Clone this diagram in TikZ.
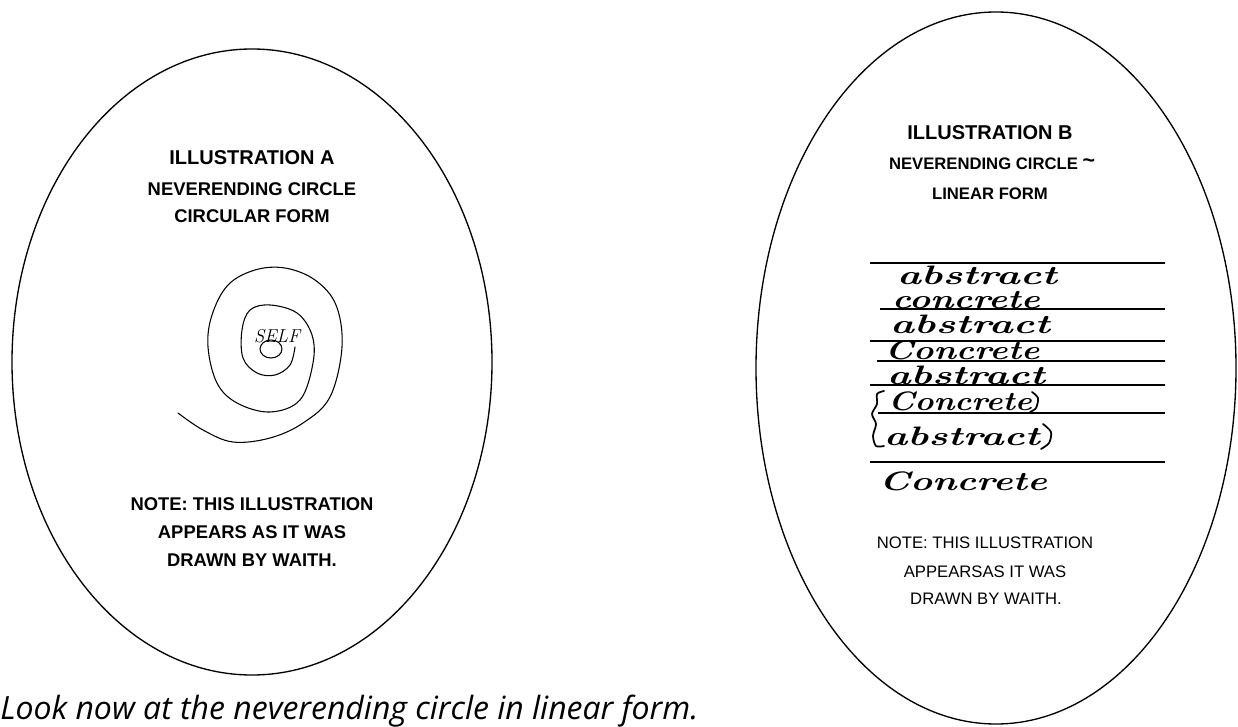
\documentclass[tikz,border=0pt]{standalone}
\usepackage{fontspec}
\usetikzlibrary{shapes.geometric}
\newfontfamily\arialfont{Liberation Sans}
\newfontfamily\capfont{Open Sans}
\newcommand{\hw}[2]{\scalebox{#1}[1]{\fontsize{20}{22}\selectfont\bfseries\itshape #2}}
\begin{document}
\begin{tikzpicture}[x=0.75pt,y=-0.75pt,
  oval/.style={draw, ellipse, line width=1pt, inner sep=0pt},
  titlebox/.style={font=\arialfont\bfseries\fontsize{15}{18}\selectfont, inner sep=0pt},
  subbold/.style={font=\arialfont\bfseries\fontsize{13.8}{16}\selectfont, inner sep=0pt},
  subboldB/.style={font=\arialfont\bfseries\fontsize{12.5}{15}\selectfont, inner sep=0pt},
  noteB/.style={font=\arialfont\fontsize{12.5}{15}\selectfont, inner sep=0pt},
  hand/.style={inner sep=0pt},
  hline/.style={line width=1.1pt},
  pen/.style={line width=0.8pt, line cap=round, line join=round}]
\useasboundingbox (0,0) rectangle (1238,727);
% ellipses
\node[oval, minimum width=360pt, minimum height=469.5pt] (ovalA) at (252,362) {};
\node[oval, minimum width=360pt, minimum height=534pt] (ovalB) at (996,368) {};
% illustration A texts
\node[titlebox] (titA) at (252,158) {ILLUSTRATION A};
\node[subbold] (subA1) at (252,189) {NEVERENDING CIRCLE};
\node[subbold] (subA2) at (252,216) {CIRCULAR FORM};
\node[subbold] (noteA1) at (252,504) {NOTE: THIS ILLUSTRATION};
\node[subbold] (noteA2) at (252,532) {APPEARS AS IT WAS};
\node[subbold] (noteA3) at (252,560) {DRAWN BY WAITH.};
% spiral
\draw[pen] plot[smooth, tension=0.6] coordinates {
 (178,413) (203,430) (233,442) (270,438) (303,423) (330,397) (342,347)
 (336,305) (315,280) (285,268) (255,270) (228,285) (212,315) (208,347)
 (217,383) (237,403) (270,412) (300,400) (313,363) (312,335) (297,313)
 (270,305) (250,310) (242,330) (243,358) (257,373) (275,375) (290,365) (295,347)};
\node[hand, font=\fontsize{14}{15}\selectfont\itshape] (self) at (277,336) {SELF};
\draw[pen] (271,349) ellipse [x radius=11, y radius=9];
% illustration B texts
\node[titlebox] (titB) at (990,133) {ILLUSTRATION B};
\node[subboldB] (subB1) at (992,164) {NEVERENDING CIRCLE \raisebox{2pt}{\fontsize{16}{16}\selectfont\~{}}};
\node[subboldB] (subB2) at (990,194) {LINEAR FORM};
\node[noteB] (noteB1) at (985,543) {NOTE: THIS ILLUSTRATION};
\node[noteB] (noteB2) at (985,572) {APPEARSAS IT WAS};
\node[noteB] (noteB3) at (986,599) {DRAWN BY WAITH.};
% handwritten list
\draw[hline] (870,263) -- (1165,263);
\draw[hline] (880,309) -- (1165,309);
\draw[hline] (870,341) -- (1165,341);
\draw[hline] (877,361) -- (1165,361);
\draw[hline] (870,385) -- (1165,385);
\draw[hline] (878,413) -- (1165,413);
\draw[hline] (870,462) -- (1165,462);
\node[hand] (w1) at (977,275) {\hw{1.52}{abstract}};
\node[hand] (w2) at (966,300) {\hw{1.34}{concrete}};
\node[hand] (w3) at (970,324) {\hw{1.52}{abstract}};
\node[hand] (w4) at (962,350) {\hw{1.29}{Concrete}};
\node[hand] (w5) at (966,375) {\hw{1.5}{abstract}};
\node[hand] (w6) at (960,401) {\hw{1.2}{Concrete}};
\node[hand] (w7) at (962,436) {\hw{1.48}{abstract}};
\node[hand] (w8) at (963,481) {\hw{1.4}{Concrete}};
% braces
\draw[pen, line width=1.3pt] plot[smooth] coordinates {(884,391) (877,394) (877,404) (872,414) (876,424) (873,436) (876,446) (884,446)};
\draw[pen, line width=1.3pt] plot[smooth] coordinates {(1032,392) (1038,398) (1036,408) (1030,412)};
\draw[pen, line width=1.3pt] plot[smooth] coordinates {(1043,424) (1051,432) (1049,443) (1041,449)};
% caption
\node[inner sep=0pt, anchor=west, font=\capfont\itshape\fontsize{24}{27}\selectfont] (cap) at (0,711) {Look now at the neverending circle in linear form.};
\end{tikzpicture}
\end{document}
